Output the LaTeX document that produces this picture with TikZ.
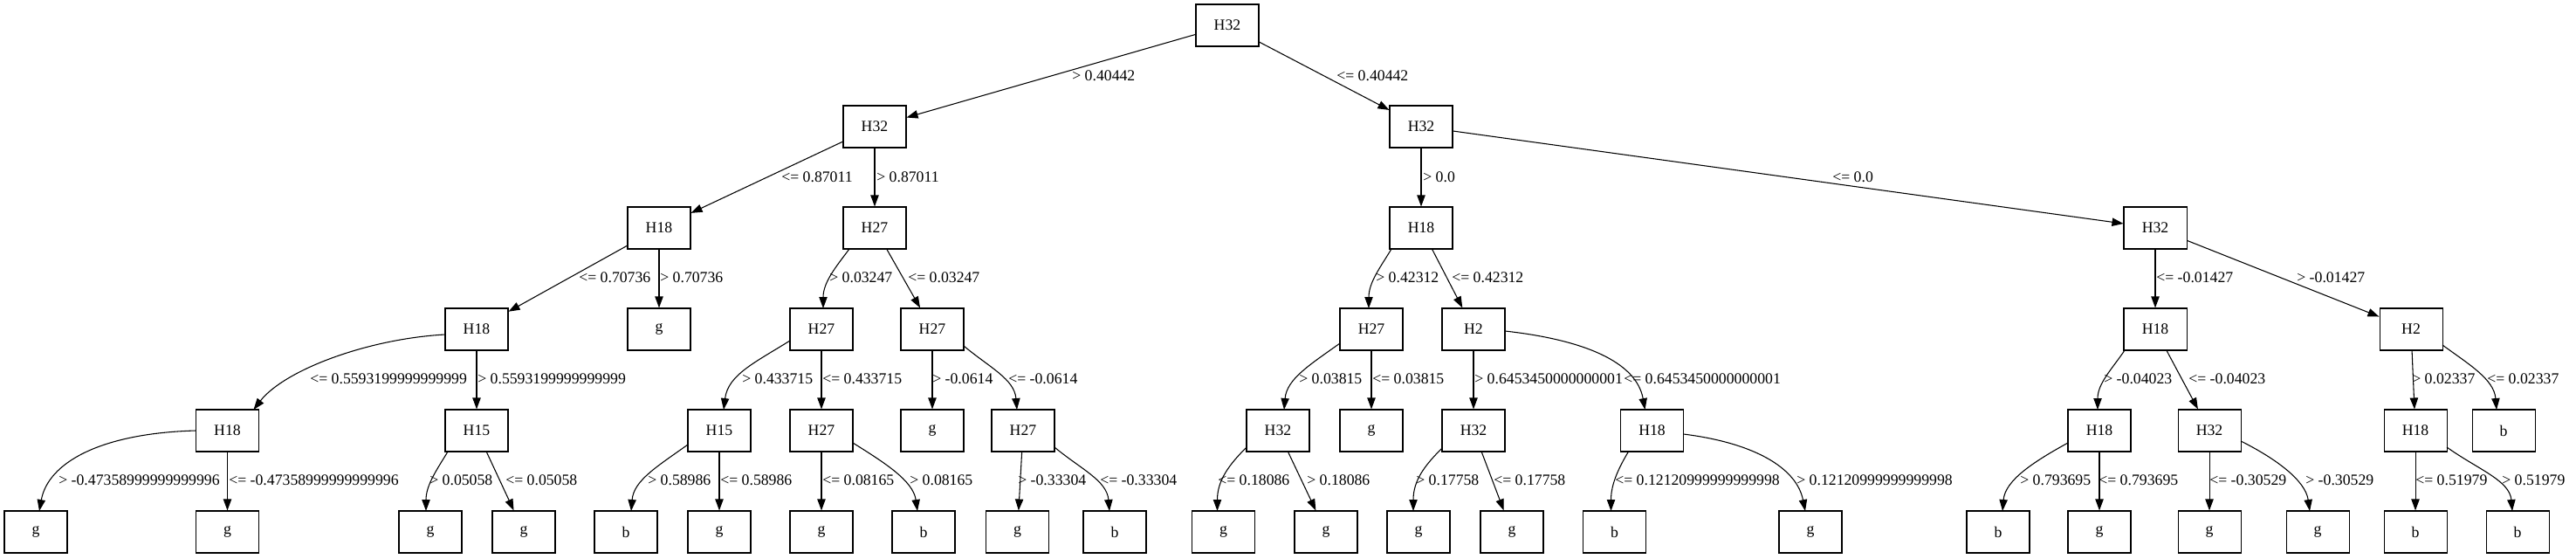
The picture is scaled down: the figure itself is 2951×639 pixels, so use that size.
\documentclass[tikz,border=0pt]{standalone}
\usepackage{fontspec}
\setmainfont{Liberation Serif}
\usetikzlibrary{arrows.meta,calc}
\begin{document}
\begin{tikzpicture}[x=0.75pt,y=-0.75pt,
  box/.style={draw, line width=0.8pt, rectangle, minimum width=54pt, minimum height=36pt, inner sep=0pt, font=\fontsize{13.3}{15}\selectfont},
  lab/.style={anchor=west, inner sep=0pt, font=\fontsize{13.3}{15}\selectfont},
  edge/.style={draw, line width=0.8pt, -{Triangle[length=9.75pt,width=7pt]}}]
\useasboundingbox (0,0) rectangle (2951,639);
% row 0
\node[box] (root) at (1406,29) {H32};
% row 1
\node[box] (A) at (1002,145) {H32};
\node[box] (L) at (1628,145) {H32};
% row 2
\node[box] (B) at (755,261) {H18};
\node[box] (F) at (1002,261) {H27};
\node[box] (M) at (1628,261) {H18};
\node[box] (S) at (2469,261) {H32};
% row 3
\node[box] (C) at (546,377) {H18};
\node[box] (gB) at (755,377) {g};
\node[box] (G) at (941,377) {H27};
\node[box] (J) at (1068,377) {H27};
\node[box] (N) at (1571,377) {H27};
\node[box] (P) at (1688,377) {H2};
\node[box] (T) at (2469,377) {H18};
\node[box] (W) at (2762,377) {H2};
% row 4
\node[box] (D) at (260.5,493) {H18};
\node[box] (E) at (546,493) {H15};
\node[box] (H) at (824,493) {H15};
\node[box] (I) at (941,493) {H27};
\node[box] (gJ) at (1068,493) {g};
\node[box] (K) at (1172,493) {H27};
\node[box] (O) at (1464,493) {H32};
\node[box] (gN) at (1571,493) {g};
\node[box] (Q) at (1688,493) {H32};
\node[box] (R) at (1892.5,493) {H18};
\node[box] (U) at (2405,493) {H18};
\node[box] (V) at (2531,493) {H32};
\node[box] (X) at (2767,493) {H18};
\node[box] (bW) at (2868,493) {b};
% row 5
\node[box] (l1) at (41,609) {g};
\node[box] (l2) at (260.5,609) {g};
\node[box] (l3) at (493,609) {g};
\node[box] (l4) at (600,609) {g};
\node[box] (l5) at (717,609) {b};
\node[box] (l6) at (824,609) {g};
\node[box] (l7) at (941,609) {g};
\node[box] (l8) at (1058,609) {b};
\node[box] (l9) at (1165.5,609) {g};
\node[box] (l10) at (1277,609) {b};
\node[box] (l11) at (1401.5,609) {g};
\node[box] (l12) at (1519,609) {g};
\node[box] (l13) at (1625,609) {g};
\node[box] (l14) at (1732,609) {g};
\node[box] (l15) at (1849.5,609) {b};
\node[box] (l16) at (2074,609) {g};
\node[box] (l17) at (2289,609) {b};
\node[box] (l18) at (2405,609) {g};
\node[box] (l19) at (2531,609) {g};
\node[box] (l20) at (2655,609) {g};
\node[box] (l21) at (2767,609) {b};
\node[box] (l22) at (2884,609) {b};
% straight edges
\draw[edge] (root) -- (A);
\draw[edge] (root) -- (L);
\draw[edge] (A) -- (B);
\draw[edge] (A) -- (F);
\draw[edge] (L) -- (M);
\draw[edge] (L) -- (S);
\draw[edge] (B) -- (C);
\draw[edge] (B) -- (gB);
\draw[edge] (F) -- (J);
\draw[edge] (M) -- (P);
\draw[edge] (S) -- (T);
\draw[edge] (S) -- (W);
\draw[edge] (C) -- (E);
\draw[edge] (G) -- (I);
\draw[edge] (J) -- (gJ);
\draw[edge] (N) -- (gN);
\draw[edge] (P) -- (Q);
\draw[edge] (T) -- (V);
\draw[edge] (W) -- (X);
\draw[edge] (D) -- (l2);
\draw[edge] (E) -- (l4);
\draw[edge] (H) -- (l6);
\draw[edge] (I) -- (l7);
\draw[edge] (K) -- (l9);
\draw[edge] (O) -- (l12);
\draw[edge] (Q) -- (l14);
\draw[edge] (U) -- (l18);
\draw[edge] (V) -- (l19);
\draw[edge] (X) -- (l21);
% curved edges
\draw[edge] ($(C)+(-36,6)$) .. controls +(-90,5) and +(35,-45) .. ($(D)+(30,-24)$);
\draw[edge] ($(D)+(-36,0)$) .. controls +(-110,3) and +(10,-55) .. ($(l1)+(4,-24)$);
\draw[edge] ($(E)+(-33,24)$) .. controls +(-12,20) and +(0,-30) .. ($(l3)+(-5,-24)$);
\draw[edge] ($(F)+(-29,24)$) .. controls +(-15,20) and +(0,-30) .. ($(G)+(2,-24)$);
\draw[edge] ($(G)+(-36,13)$) .. controls +(-40,25) and +(5,-40) .. ($(H)+(5,-24)$);
\draw[edge] ($(H)+(-36,16)$) .. controls +(-35,25) and +(3,-35) .. ($(l5)+(6,-24)$);
\draw[edge] ($(I)+(36,14)$) .. controls +(35,22) and +(-5,-35) .. ($(l8)+(-7,-24)$);
\draw[edge] ($(J)+(36,19)$) .. controls +(30,25) and +(-3,-35) .. ($(K)+(-7,-24)$);
\draw[edge] ($(K)+(36,19)$) .. controls +(30,25) and +(-3,-35) .. ($(l10)+(-6,-24)$);
\draw[edge] ($(M)+(-34,24)$) .. controls +(-12,20) and +(0,-30) .. ($(N)+(-3,-24)$);
\draw[edge] ($(N)+(-36,16)$) .. controls +(-35,25) and +(3,-35) .. ($(O)+(7,-24)$);
\draw[edge] ($(P)+(36,2)$) .. controls +(90,10) and +(-10,-55) .. ($(R)+(-8,-24)$);
\draw[edge] ($(O)+(-36,19)$) .. controls +(-20,20) and +(0,-35) .. ($(l11)+(-7,-24)$);
\draw[edge] ($(Q)+(-36,20)$) .. controls +(-20,20) and +(0,-35) .. ($(l13)+(-6,-24)$);
\draw[edge] ($(R)+(-27,24)$) .. controls +(-12,20) and +(0,-30) .. ($(l15)+(-4,-24)$);
\draw[edge] ($(R)+(36,4)$) .. controls +(80,10) and +(-10,-50) .. ($(l16)+(-6,-24)$);
\draw[edge] ($(T)+(-35,24)$) .. controls +(-15,22) and +(0,-30) .. ($(U)+(-2,-24)$);
\draw[edge] ($(U)+(-36,14)$) .. controls +(-40,22) and +(3,-35) .. ($(l17)+(5,-24)$);
\draw[edge] ($(V)+(36,12)$) .. controls +(40,20) and +(-5,-35) .. ($(l20)+(-9,-24)$);
\draw[edge] ($(W)+(36,18)$) .. controls +(30,22) and +(-3,-35) .. ($(bW)+(-8,-24)$);
\draw[edge] ($(X)+(36,19)$) .. controls +(35,25) and +(-3,-35) .. ($(l22)+(-6,-24)$);
% labels row 0-1
\node[lab] (t1) at (1228,87) {> 0.40442};
\node[lab] (t2) at (1531,87) {<= 0.40442};
% row 1-2
\node[lab] (t3) at (895,203) {<= 0.87011};
\node[lab] (t4) at (1004,203) {> 0.87011};
\node[lab] (t5) at (1630,203) {> 0.0};
\node[lab] (t6) at (2099,203) {<= 0.0};
% row 2-3
\node[lab] (t7) at (663,318) {<= 0.70736};
\node[lab] (t8) at (756,318) {> 0.70736};
\node[lab] (t9) at (950,318) {> 0.03247};
\node[lab] (t10) at (1040,318) {<= 0.03247};
\node[lab] (t11) at (1576,318) {> 0.42312};
\node[lab] (t12) at (1663,318) {<= 0.42312};
\node[lab] (t13) at (2470,318) {<= -0.01427};
\node[lab] (t14) at (2631,318) {> -0.01427};
% row 3-4
\node[lab] (t15) at (355,434) {<= 0.5593199999999999};
\node[lab] (t16) at (547,434) {> 0.5593199999999999};
\node[lab] (t17) at (850,434) {> 0.433715};
\node[lab] (t18) at (942,434) {<= 0.433715};
\node[lab] (t19) at (1068,434) {> -0.0614};
\node[lab] (t20) at (1155,434) {<= -0.0614};
\node[lab] (t21) at (1488,434) {> 0.03815};
\node[lab] (t22) at (1572,434) {<= 0.03815};
\node[lab] (t23) at (1689,434) {> 0.6453450000000001};
\node[lab] (t24) at (1860,434) {<= 0.6453450000000001};
\node[lab] (t25) at (2410,434) {> -0.04023};
\node[lab] (t26) at (2507,434) {<= -0.04023};
\node[lab] (t27) at (2763,434) {> 0.02337};
\node[lab] (t28) at (2849,434) {<= 0.02337};
% row 4-5
\node[lab] (t29) at (67,550) {> -0.47358999999999996};
\node[lab] (t30) at (262,550) {<= -0.47358999999999996};
\node[lab] (t31) at (492,550) {> 0.05058};
\node[lab] (t32) at (579,550) {<= 0.05058};
\node[lab] (t33) at (742,550) {> 0.58986};
\node[lab] (t34) at (825,550) {<= 0.58986};
\node[lab] (t35) at (942,550) {<= 0.08165};
\node[lab] (t36) at (1042,550) {> 0.08165};
\node[lab] (t37) at (1166,550) {> -0.33304};
\node[lab] (t38) at (1260,550) {<= -0.33304};
\node[lab] (t39) at (1395,550) {<= 0.18086};
\node[lab] (t40) at (1497,550) {> 0.18086};
\node[lab] (t41) at (1622,550) {> 0.17758};
\node[lab] (t42) at (1711,550) {<= 0.17758};
\node[lab] (t43) at (1850,550) {<= 0.12120999999999998};
\node[lab] (t44) at (2058,550) {> 0.12120999999999998};
\node[lab] (t45) at (2314,550) {> 0.793695};
\node[lab] (t46) at (2404,550) {<= 0.793695};
\node[lab] (t47) at (2531,550) {<= -0.30529};
\node[lab] (t48) at (2641,550) {> -0.30529};
\node[lab] (t49) at (2767,550) {<= 0.51979};
\node[lab] (t50) at (2866,550) {> 0.51979};
\end{tikzpicture}
\end{document}
